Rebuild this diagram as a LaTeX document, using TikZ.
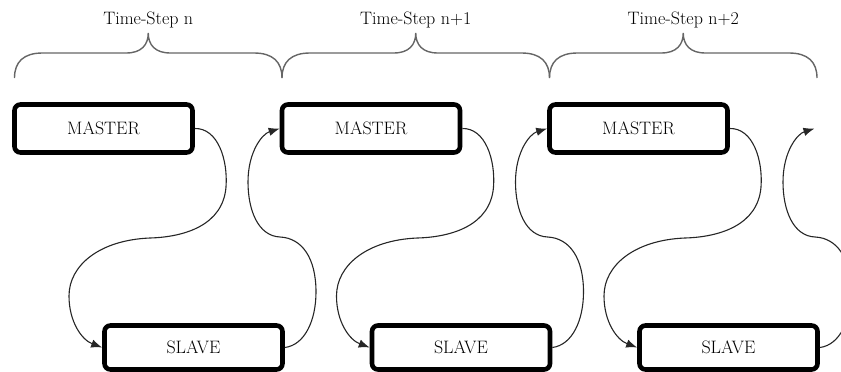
\documentclass[tikz,border=0pt]{standalone}
\usetikzlibrary{arrows.meta,calc}
\begin{document}
\begin{tikzpicture}[x=1pt,y=-1pt,
  box/.style={draw=black,line width=4.6pt,rounded corners=6pt,minimum width=178pt,inner sep=0pt,font=\fontsize{18}{21}\selectfont},
  mbox/.style={box,minimum height=48pt},
  sbox/.style={box,minimum height=44pt},
  link/.style={line width=1.1pt,black!85},
  arr/.style={link,-{Latex[length=11pt,width=8.5pt]}},
  brace/.style={line width=1.4pt,black!60},
  lbl/.style={font=\fontsize{18}{21}\selectfont,inner sep=0pt}]
\useasboundingbox (0,0) rectangle (841,372);
\clip (0,0) rectangle (841,372);
% boxes
\foreach \i in {1,2,3}{
  \pgfmathsetmacro\dx{267.5*(\i-1)}
  \node[mbox] (m\i) at (\dx+103.5,128.5) {MASTER};
  \node[sbox] (s\i) at (\dx+193.5,347.5) {SLAVE};
}
\coordinate (m4w) at (814.5,128.5);
% braces and labels
\foreach \i/\t in {1/n,2/n+1,3/n+2}{
  \pgfmathsetmacro\xa{14.5+267.5*(\i-1)}
  \pgfmathsetmacro\xm{\xa+133.75}
  \pgfmathsetmacro\xb{\xa+267.5}
  \draw[brace] (\xa,78) .. controls (\xa,62) and (\xa+9,53) .. (\xa+28,53)
     -- (\xm-22,53) .. controls (\xm-7,53) and (\xm,45) .. (\xm,33)
     .. controls (\xm,45) and (\xm+7,53) .. (\xm+22,53)
     -- (\xb-28,53) .. controls (\xb-9,53) and (\xb,62) .. (\xb,78);
  \node[lbl] (t\i) at (\xm,20) {Time-Step \t};
}
% connectors
\foreach \i/\j in {1/m2.west,2/m3.west,3/m4w}{
  \pgfmathsetmacro\dx{267.5*(\i-1)}
  \draw[arr] (m\i.east) .. controls (\dx+218,128) and (\dx+228,160) .. (\dx+226,187)
     .. controls (\dx+223,225) and (\dx+185,237) .. (\dx+150,238)
     .. controls (\dx+100,240) and (\dx+69,265) .. (\dx+69,296)
     .. controls (\dx+69,322) and (\dx+82,340) .. (s\i.west);
  \draw[arr] (s\i.east) .. controls (\dx+305,345) and (\dx+316,320) .. (\dx+316,292)
     .. controls (\dx+316,258) and (\dx+302,238) .. (\dx+280,237)
     .. controls (\dx+258,236) and (\dx+248,210) .. (\dx+248,182)
     .. controls (\dx+248,152) and (\dx+262,134) .. (\j);
}
\end{tikzpicture}
\end{document}
